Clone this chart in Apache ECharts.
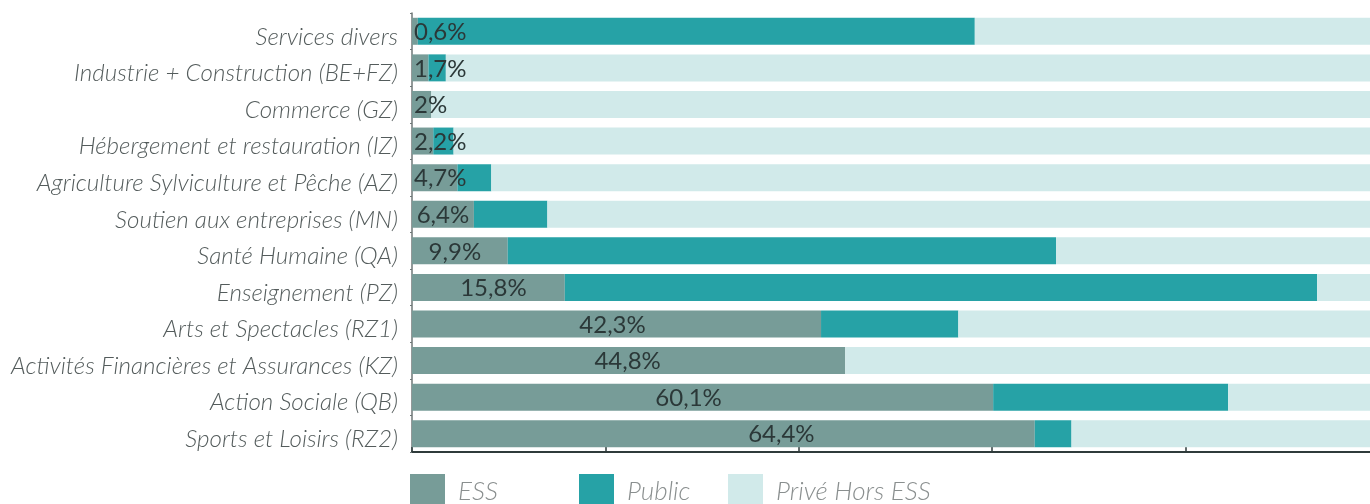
<!DOCTYPE html>
<html><head><meta charset="utf-8">
<script src="https://cdn.jsdelivr.net/npm/echarts@6/dist/echarts.min.js"></script>
<style>html,body{margin:0;padding:0;background:#fff}#c{width:1370px;height:504px}</style>
</head><body><div id="c"></div>
<script>
const categories = ["Services divers","Industrie + Construction (BE+FZ)","Commerce (GZ)","Hébergement et restauration (IZ)","Agriculture Sylviculture et Pêche (AZ)","Soutien aux entreprises (MN)","Santé Humaine (QA)","Enseignement (PZ)","Arts et Spectacles (RZ1)","Activités Financières et Assurances (KZ)","Action Sociale (QB)","Sports et Loisirs (RZ2)"];
const essValues = [0.6,1.7,2,2.2,4.7,6.4,9.9,15.8,42.3,44.8,60.1,64.4];
const publicValues = [57.6,1.8,0,2.1,3.5,7.6,56.7,77.8,14.2,0,24.3,3.8];
const seriesNames = ["ESS","Public","Privé Hors ESS"];
const priveValues = essValues.map((v,i)=>+(100 - v - publicValues[i]).toFixed(1));

// horizontal nudges of the value labels (style only)
const labelNudge = [0,0,0,0,0,0,-5,5,-4,-1,-14,58];

const colors = ['#779C98','#26A2A6','#D1EAEA'];
const fmt = v => String(v).replace('.', ',') + '%';

const chart = echarts.init(document.getElementById('c'));
const essData = essValues.map((v, i) => ({
  value: v,
  label: { position: v < 5.5 ? 'insideLeft' : 'inside', distance: 2, offset: [labelNudge[i], 1] }
}));
const legendBase = {
  top: 474, padding: 0, itemWidth: 35, itemHeight: 35, icon: 'rect', itemGap: 0,
  textStyle: { fontFamily: 'Lato', fontStyle: 'italic', fontWeight: 300, fontSize: 26, color: '#8a8f8f', padding: [0,0,0,8] }
};
chart.setOption({
  animation: false,
  color: colors,
  legend: [
    Object.assign({}, legendBase, { left: 410, data: [seriesNames[0]] }),
    Object.assign({}, legendBase, { left: 579, data: [seriesNames[1]] }),
    Object.assign({}, legendBase, { left: 728, data: [seriesNames[2]] })
  ],
  grid: { left: 412, width: 967, top: 13, bottom: 52, containLabel: false, outerBoundsMode: 'none' },
  xAxis: {
    type: 'value', min: 0, max: 100, interval: 20,
    axisLabel: { show: false }, splitLine: { show: false },
    axisLine: { show: true, lineStyle: { color: '#2f3b3b', width: 2 } },
    axisTick: { show: true, inside: true, length: 5, lineStyle: { color: '#2f3b3b', width: 1.5 } }
  },
  yAxis: {
    type: 'category', inverse: true, data: categories,
    axisLine: { show: true, lineStyle: { color: '#6f7777', width: 1.5 } },
    axisTick: { show: true, length: 2, lineStyle: { color: '#6f7777' } },
    axisLabel: {
      margin: 14,
      formatter: v => '{a|' + v + '}',
      rich: { a: { fontFamily: 'Lato', fontStyle: 'italic', fontWeight: 300, fontSize: 24.2, color: '#545c5c', padding: [11,0,0,0] } }
    }
  },
  series: [
    { name: seriesNames[0], type: 'bar', stack: 't', barWidth: 27, data: essData,
      label: { show: true, formatter: p => fmt(p.value), fontFamily: 'Lato', fontSize: 24, color: '#2b3838' } },
    { name: seriesNames[1], type: 'bar', stack: 't', barWidth: 27, data: publicValues },
    { name: seriesNames[2], type: 'bar', stack: 't', barWidth: 27, data: priveValues }
  ]
});
</script></body></html>
